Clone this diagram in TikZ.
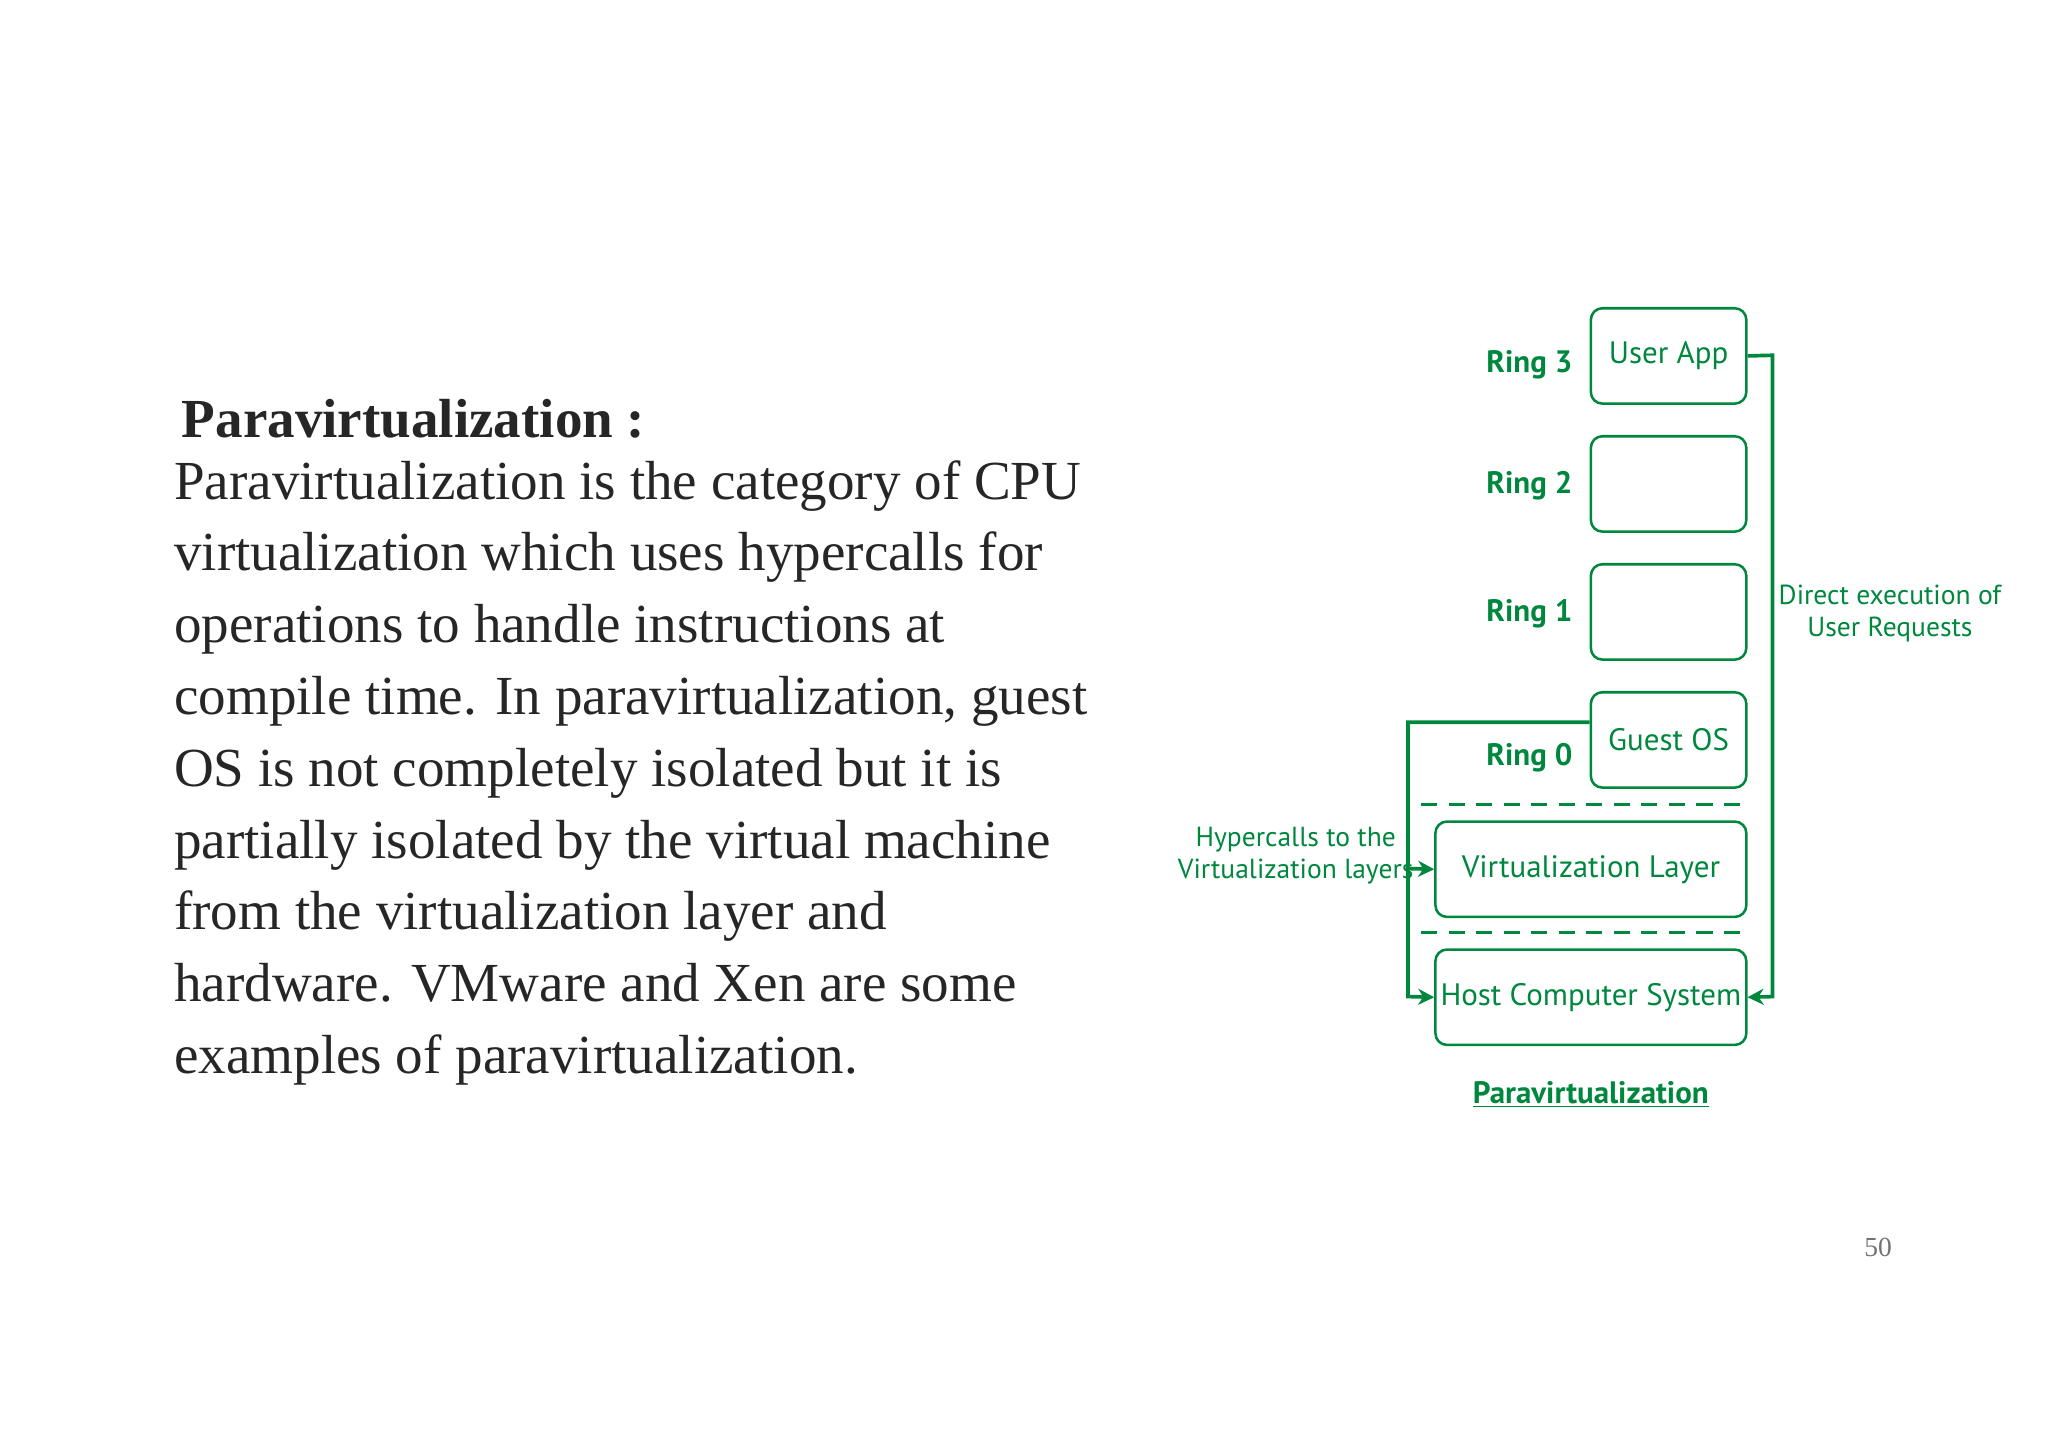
\documentclass[tikz,border=0pt]{standalone}
\usepackage{fontspec}
\setmainfont{Liberation Serif}
\newfontfamily\dfont{PT Sans}
\usetikzlibrary{arrows.meta}
\definecolor{gg}{RGB}{0,135,62}
\begin{document}
\begin{tikzpicture}[x=0.02cm,y=-0.02cm,
 box/.style={draw=gg,line width=1.1pt,rounded corners=5pt,minimum width=119*0.02cm,minimum height=73*0.02cm,font=\dfont\fontsize{13.5}{15}\selectfont,text=gg,inner sep=0},
 wbox/.style={box,minimum width=238*0.02cm},
 ring/.style={anchor=east,font=\dfont\bfseries\fontsize{13.5}{15}\selectfont,text=gg},
 conn/.style={draw=gg,line width=1.6pt},
 arr/.style={conn,-{Stealth[length=7pt,width=7pt]}},
 lbl/.style={font=\dfont\fontsize{12}{14}\selectfont,text=gg,align=center}]
\useasboundingbox (0,0) rectangle (1568,1109);
\node[anchor=base west,font=\bfseries\fontsize{24}{31.3}\selectfont,text=black!85] (title) at (133,335) {Paravirtualization :};
\node[anchor=north west,align=left,inner sep=0,font=\fontsize{24}{31.3}\selectfont,text=black!85] (body) at (133,352) {Paravirtualization is the category of CPU\\virtualization which uses hypercalls for\\operations to handle instructions at\\compile time. In paravirtualization, guest\\OS is not completely isolated but it is\\partially isolated by the virtual machine\\from the virtualization layer and\\hardware. VMware and Xen are some\\examples of paravirtualization.};
\node[font=\fontsize{12}{14}\selectfont,text=black!55] (pg) at (1438,955) {50};
\node[box] (ua) at (1277.5,272.5) {User App};
\node[box] (r2) at (1277.5,370.5) {};
\node[box] (r1) at (1277.5,468.5) {};
\node[box] (gos) at (1277.5,566.5) {Guest OS};
\node[wbox] (vl) at (1218,665.5) {Virtualization Layer};
\node[wbox] (hc) at (1218,763.5) {Host Computer System};
\node[ring] (l3) at (1210,279) {Ring 3};
\node[ring] (l2) at (1210,372) {Ring 2};
\node[ring] (l1) at (1210,470) {Ring 1};
\node[ring] (l0) at (1210,580) {Ring 0};
\draw[conn,dashed,dash pattern=on 7pt off 5pt] (1088,616) -- (1334,616);
\draw[conn,dashed,dash pattern=on 7pt off 5pt] (1088,714) -- (1334,714);
\draw[arr] (ua.east) -- (1357,272) -- (1357,763) -- (hc.east);
\coordinate (bl) at (1078,553);
\draw[arr] (gos.west |- bl) -- (bl) -- (1078,763) -- (hc.west);
\draw[arr] (1078,665) -- (vl.west);
\node[lbl] (hyp) at (992,655) {Hypercalls to the\\Virtualization layers};
\node[lbl] (dir) at (1447,470) {Direct execution of\\User Requests};
\node[font=\dfont\bfseries\fontsize{13.5}{15}\selectfont,text=gg] (cap) at (1218,838) {\underline{Paravirtualization}};
\end{tikzpicture}
\end{document}
